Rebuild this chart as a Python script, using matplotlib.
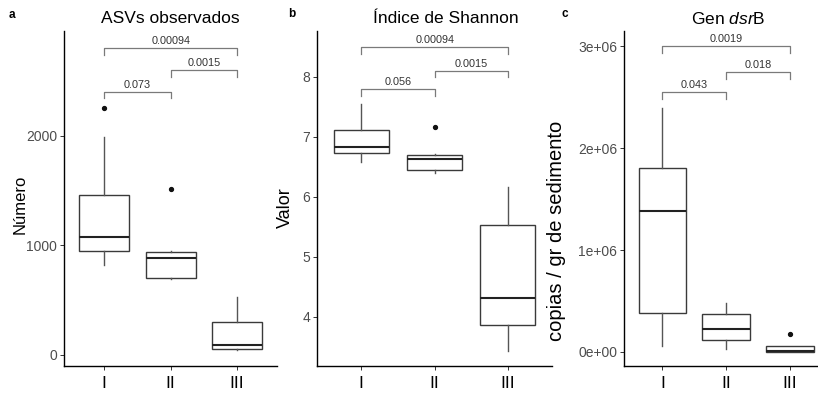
import matplotlib
matplotlib.use("Agg")
import matplotlib.pyplot as plt

plt.rcParams['font.family'] = ['Liberation Sans', 'DejaVu Sans']
plt.rcParams['mathtext.fontset'] = 'custom'
plt.rcParams['mathtext.rm'] = 'Liberation Sans'
plt.rcParams['mathtext.it'] = 'Liberation Sans:italic'

groups = ['I', 'II', 'III']

# panel a - ASVs observados
asv_whislo = [815, 688, 38]
asv_q1 = [950, 697, 48]
asv_med = [1075, 878, 85]
asv_q3 = [1460, 939, 296]
asv_whishi = [1985, 948, 524]
asv_fliers = [[2255], [1509], []]
asv_pvals = ['0.073', '0.0015', '0.00094']
asv_bars = [2403, 2601, 2804]

# panel b - Shannon
sh_whislo = [6.57, 6.40, 3.43]
sh_q1 = [6.72, 6.44, 3.87]
sh_med = [6.83, 6.62, 4.31]
sh_q3 = [7.11, 6.70, 5.53]
sh_whishi = [7.545, 6.71, 6.16]
sh_fliers = [[], [7.16], []]
sh_pvals = ['0.056', '0.0015', '0.00094']
sh_bars = [7.795, 8.10, 8.49]

# panel c - dsrB copies
ds_whislo = [0.056e6, 0.024e6, 0.0]
ds_q1 = [0.383e6, 0.115e6, 0.004e6]
ds_med = [1.383e6, 0.23e6, 0.012e6]
ds_q3 = [1.81e6, 0.37e6, 0.056e6]
ds_whishi = [2.39e6, 0.48e6, 0.06e6]
ds_fliers = [[], [], [0.18e6]]
ds_pvals = ['0.043', '0.018', '0.0019']
ds_bars = [2.55e6, 2.75e6, 3.0e6]

pairs = [(1, 2), (2, 3), (1, 3)]

W, H = 818, 393
fig = plt.figure(figsize=(W / 100, H / 100), dpi=100)


def px_axes(x0, x1, y0, y1):
    return fig.add_axes([x0 / W, 1 - y1 / H, (x1 - x0) / W, (y1 - y0) / H])


def draw_panel(ax, whislo, q1, med, q3, whishi, fliers, pvals, bars, ylim, yticks, yticklabels, tip):
    stats = []
    for i in range(3):
        stats.append(dict(whislo=whislo[i], q1=q1[i], med=med[i], q3=q3[i],
                          whishi=whishi[i], fliers=fliers[i]))
    ax.bxp(stats, positions=[1, 2, 3], widths=0.75, showcaps=False, patch_artist=True,
           boxprops=dict(facecolor='white', edgecolor='#3a3a3a', linewidth=1.0),
           whiskerprops=dict(color='#555555', linewidth=1.0),
           medianprops=dict(color='#222222', linewidth=1.5),
           flierprops=dict(marker='o', markersize=2.8, markerfacecolor='#111111',
                           markeredgecolor='#111111'))
    for (a, b), p, yb in zip(pairs, pvals, bars):
        ax.plot([a, a, b, b], [yb - tip, yb, yb, yb - tip], color='#7a7a7a', lw=0.9,
                clip_on=False)
        ax.annotate(p, xy=((a + b) / 2, yb), xytext=(0, 1.5), textcoords='offset points',
                    ha='center', va='bottom', fontsize=7.8, color='#333333')
    ax.set_xlim(0.4, 3.6)
    ax.set_ylim(*ylim)
    ax.set_xticks([1, 2, 3])
    ax.set_xticklabels(groups, fontsize=12.5, color='black')
    ax.set_yticks(yticks)
    ax.set_yticklabels(yticklabels, fontsize=10, color='#4d4d4d')
    ax.tick_params(axis='both', length=3, width=0.7, color='#333333', pad=2)
    ax.tick_params(axis='x', pad=4)
    for s in ['top', 'right']:
        ax.spines[s].set_visible(False)
    for s in ['left', 'bottom']:
        ax.spines[s].set_linewidth(1.0)
        ax.spines[s].set_color('black')


ax1 = px_axes(64.3, 277, 31, 366)
draw_panel(ax1, asv_whislo, asv_q1, asv_med, asv_q3, asv_whishi, asv_fliers,
           asv_pvals, asv_bars, (-105, 2958), [0, 1000, 2000], ['0', '1000', '2000'], 62)

ax2 = px_axes(317.3, 552, 31, 366)
draw_panel(ax2, sh_whislo, sh_q1, sh_med, sh_q3, sh_whishi, sh_fliers,
           sh_pvals, sh_bars, (3.18, 8.76), [4, 5, 6, 7, 8], ['4', '5', '6', '7', '8'], 0.11)

ax3 = px_axes(624.3, 828, 31, 366)
draw_panel(ax3, ds_whislo, ds_q1, ds_med, ds_q3, ds_whishi, ds_fliers,
           ds_pvals, ds_bars, (-0.138e6, 3.15e6), [0, 1e6, 2e6, 3e6],
           ['0e+00', '1e+06', '2e+06', '3e+06'], 0.07e6)


def ftext(x, y, s, **kw):
    fig.text(x / W, 1 - y / H, s, **kw)


ftext(170, 18.5, 'ASVs observados', ha='center', va='center', fontsize=12.5)
ftext(446, 18.5, 'Índice de Shannon', ha='center', va='center', fontsize=12.5)
ftext(728, 18.5, 'Gen $\\it{dsr}$B', ha='center', va='center', fontsize=12.5)

ftext(12, 15, 'a', ha='center', va='center', fontsize=8.5, fontweight='bold')
ftext(292, 14, 'b', ha='center', va='center', fontsize=8.5, fontweight='bold')
ftext(565, 14, 'c', ha='center', va='center', fontsize=8.5, fontweight='bold')

ftext(20, 204, 'Número', ha='center', va='center', rotation=90, fontsize=12)
ftext(285, 208, 'Valor', ha='center', va='center', rotation=90, fontsize=13)
ftext(557, 231, 'copias / gr de sedimento', ha='center', va='center', rotation=90,
      fontsize=14.5)

fig.savefig('out.png', dpi=100)
